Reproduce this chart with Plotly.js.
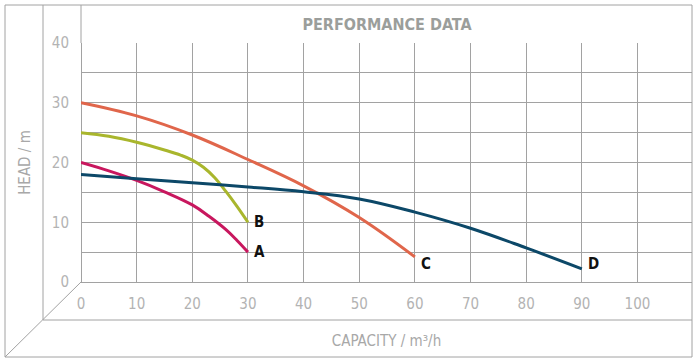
<!DOCTYPE html>
<html><head><meta charset="utf-8">
<script src="https://cdn.plot.ly/plotly-3.0.1.min.js"></script>
<style>html,body{margin:0;padding:0;background:#fff}</style>
</head><body><div id="chart" style="width:696px;height:363px"></div>
<script>
// Data
const capA = [0, 5, 10, 15, 20, 23, 26, 28, 30];
const headA = [20, 18.6, 17.0, 15.1, 12.9, 11.0, 8.8, 7.0, 5];
const capB = [0, 5, 10, 15, 18, 20, 22, 24, 26, 28, 30];
const headB = [25, 24.4, 23.4, 22.1, 21.2, 20.4, 19.2, 17.5, 15.2, 12.7, 10];
const capC = [0, 10, 20, 30, 40, 50, 60];
const headC = [30, 27.8, 24.6, 20.5, 16.1, 10.8, 4.2];
const capD = [0, 10, 20, 30, 40, 50, 60, 70, 80, 90];
const headD = [18, 17.3, 16.6, 15.9, 15.1, 13.9, 11.7, 9.0, 5.7, 2.2];
const curveNames = ['A', 'B', 'C', 'D'];
const curveColors = ['#c8175e', '#a9b62d', '#e0664b', '#0c4868'];
const labelX = [30, 30, 60, 90];
const labelY = [5, 10, 3, 3];
const xTicks = [0, 10, 20, 30, 40, 50, 60, 70, 80, 90, 100];
const yTicks = [0, 10, 20, 30, 40];

const caps = [capA, capB, capC, capD];
const heads = [headA, headB, headC, headD];

const traces = caps.map((c, i) => ({
  x: c, y: heads[i], name: curveNames[i], type: 'scatter', mode: 'lines',
  line: {color: curveColors[i], width: 3, shape: 'spline', smoothing: 1.1},
  hoverinfo: 'skip'
}));

const L = 81, T = 43, W = 611, H = 239, B = T + H;
const px = x => (x - L) / W;
const py = y => (B - y) / H;
const grid = '#a2a2a2';
function seg(x0, y0, x1, y1) {
  return {type: 'line', xref: 'paper', yref: 'paper', x0: px(x0), y0: py(y0), x1: px(x1), y1: py(y1),
    line: {color: grid, width: 1}, layer: 'below'};
}
const shapes = [
  seg(5, 5, 692, 5),
  seg(5, 5, 5, 357),
  seg(43, 5, 43, 320),
  seg(81, 5, 81, 43),
  seg(692, 5, 692, 357),
  seg(43, 320, 692, 320),
  seg(5, 357, 692, 357),
  seg(81, 282, 5, 357)
];

const fam = 'DejaVu Sans Condensed, DejaVu Sans, sans-serif';
const annotations = curveNames.map((n, i) => ({
  x: labelX[i], y: labelY[i], xref: 'x', yref: 'y', text: '<b>' + n + '</b>', showarrow: false,
  xanchor: 'left', yanchor: 'middle', xshift: 4,
  font: {family: fam, size: 15, color: '#111'}
}));

const tickFont = {family: fam, size: 15, color: '#b3b3b3'};

const layout = {
  width: 696, height: 363,
  margin: {l: L, r: 696 - L - W, t: T, b: 363 - B, pad: 0},
  paper_bgcolor: '#fff', plot_bgcolor: '#fff',
  showlegend: false,
  title: {
    text: '<b>PERFORMANCE DATA</b>', x: 0.556, xanchor: 'center', y: 1 - 24 / 363, yanchor: 'middle',
    font: {family: fam, size: 16, color: '#9b9e9b'}
  },
  xaxis: {
    range: [0, 109.8], tickvals: xTicks, ticktext: xTicks.map(String),
    showgrid: true, gridcolor: grid, gridwidth: 1,
    zeroline: true, zerolinecolor: grid, zerolinewidth: 1, showline: false,
    ticks: 'outside', ticklen: 8, tickcolor: 'rgba(0,0,0,0)',
    tickfont: tickFont, fixedrange: true,
    title: {text: 'CAPACITY / m³/h', standoff: 23,
      font: {family: fam, size: 15, color: '#a8a8a8'}}
  },
  yaxis: {
    range: [0, 40], tickvals: yTicks, ticktext: yTicks.map(String),
    showgrid: true, gridcolor: grid, gridwidth: 1,
    minor: {dtick: 5, showgrid: true, gridcolor: grid, gridwidth: 1},
    zeroline: true, zerolinecolor: grid, zerolinewidth: 1, showline: false,
    ticks: 'outside', ticklen: 8, tickcolor: 'rgba(0,0,0,0)',
    tickfont: tickFont, fixedrange: true,
    title: {text: 'HEAD / m', standoff: 17,
      font: {family: fam, size: 15, color: '#a8a8a8'}}
  },
  shapes: shapes,
  annotations: annotations
};

Plotly.newPlot('chart', traces, layout, {displayModeBar: false, staticPlot: true});
</script>
</body></html>
